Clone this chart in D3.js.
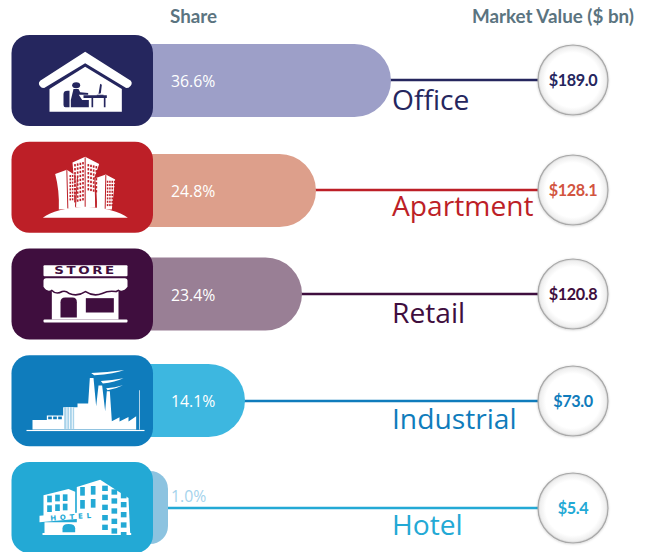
<!DOCTYPE html>
<html><head><meta charset="utf-8">
<script src="https://cdn.jsdelivr.net/npm/d3@7"></script>
<style>html,body{margin:0;padding:0;background:#fff;overflow:hidden}svg{display:block}</style>
</head><body><div id="c"></div>
<script>
const categories = ["Office","Apartment","Retail","Industrial","Hotel"];
const shares = [36.6,24.8,23.4,14.1,1.0];
const marketValues = [189.0,128.1,120.8,73.0,5.4];
const headers = ["Share","Market Value ($ bn)"];

const cardColors = ["#25265e","#bd1f27","#3f0e3e","#0f7cbc","#23a9d5"];
const barColors = ["#9d9fc8","#dd9f8b","#997f95","#3db7e0","#8cc3e0"];
const valueColors = ["#25265e","#d2553f","#3f0e3e","#0f7cbc","#23a9d5"];
const shareColors = ["#fff","#fff","#fff","#fff","#a5d3ec"];

const W=649,H=552;
const svg=d3.select("#c").append("svg").attr("width",W).attr("height",H);
const defs=svg.append("defs");
const grad=defs.append("radialGradient").attr("id","disc");
[[0,"#ffffff"],[0.78,"#ffffff"],[0.94,"#efefef"],[1,"#cfcfcf"]].forEach(s=>grad.append("stop").attr("offset",s[0]).attr("stop-color",s[1]));
const f=defs.append("filter").attr("id","blurShadow").attr("x","-20%").attr("y","-20%").attr("width","140%").attr("height","140%");
f.append("feDropShadow").attr("dx",0).attr("dy",0.5).attr("stdDeviation",0.8).attr("flood-color","#000").attr("flood-opacity",.2);

const x=d3.scaleLinear().domain([1,14.1,23.4,24.8,36.6]).range([168,245,302,316,391]);
const cardTop=d3.scalePoint().domain(categories).range([35,462]);
const lineY=d3.scaleOrdinal().domain(categories).range([80,190,294,401,508]);
const barY=d3.scaleOrdinal().domain(categories).range([80.5,190.5,294,400.5,507.5]);
const labelY=d3.scaleOrdinal().domain(categories).range([110,216,322.5,429,535]);
const cardX=11.5,cardW=141.5,cardH=91,barH=73,circleX=573,circleR=35;

svg.append("text").attr("x",193.5).attr("y",22.5).attr("text-anchor","middle").text(headers[0])
 .attr("font-family","Lato").attr("font-weight",700).attr("font-size",18.8).attr("fill","#5b7480");
svg.append("text").attr("x",553).attr("y",22.5).attr("text-anchor","middle").text(headers[1])
 .attr("font-family","Lato").attr("font-weight",700).attr("font-size",18.8).attr("fill","#5b7480");

function barPath(x1,y,h,r){
  const x0=cardX+40, rr=Math.min(r,h/2);
  return `M${x0},${y}H${x1-rr}A${rr},${rr} 0 0 1 ${x1},${y+rr}V${y+h-rr}A${rr},${rr} 0 0 1 ${x1-rr},${y+h}H${x0}Z`;
}
const rows=svg.selectAll("g.row").data(categories).join("g").attr("class","row");
rows.append("line").attr("x1",(d,i)=>x(shares[i])-2).attr("x2",circleX-circleR+1)
 .attr("y1",d=>lineY(d)).attr("y2",d=>lineY(d)).attr("stroke",(d,i)=>cardColors[i]).attr("stroke-width",2.6);
rows.append("path").attr("d",(d,i)=>barPath(x(shares[i]),barY(d)-barH/2,barH,i===4?18:40)).attr("fill",(d,i)=>barColors[i]);
rows.append("rect").attr("x",cardX).attr("y",d=>cardTop(d)).attr("width",cardW).attr("height",cardH).attr("rx",18)
 .attr("fill",(d,i)=>cardColors[i]);
rows.append("text").attr("x",171).attr("y",(d,i)=>(i===4?496:barY(d)+1)+5.5).text((d,i)=>d3.format(".1f")(shares[i])+"%")
 .attr("font-family","Open Sans").attr("font-size",15.8).attr("fill",(d,i)=>shareColors[i]);
rows.append("text").attr("x",392).attr("y",d=>labelY(d)).text(d=>d)
 .attr("font-family","Open Sans").attr("font-size",28.2).attr("fill",(d,i)=>cardColors[i]);
rows.append("circle").attr("cx",circleX).attr("cy",d=>lineY(d)).attr("r",circleR)
 .attr("fill","url(#disc)").attr("stroke","#a8a8a8").attr("stroke-width",1.2).attr("filter","url(#blurShadow)");
rows.append("text").attr("x",circleX).attr("y",d=>lineY(d)+5.5).attr("text-anchor","middle")
 .text((d,i)=>"$"+d3.format(".1f")(marketValues[i]))
 .attr("font-family","Lato").attr("font-weight",700).attr("font-size",16.2).attr("letter-spacing",-.4).attr("fill",(d,i)=>valueColors[i]);

// Icons, each drawn in a 3x local space
function icon(name,ox,oy){return svg.append("g").attr("class","icon-"+name)
 .attr("transform",`translate(${cardX},${cardTop(name)}) scale(${1/3}) translate(${-ox},${-oy})`);}
function windows(g,xs,ys,w,h,fill,skew=0){xs.forEach((a,ii)=>ys.forEach((b,jj)=>g.append("rect").attr("x",a).attr("y",b+ii*skew).attr("width",w).attr("height",h).attr("fill",fill)));}

// Office
(function(){const c=cardColors[0],g=icon("Office",34,45);
 g.append("path").attr("d","M255,95 L392,182 Q400,192 385,203 L378,204 L255,130 L132,204 L125,203 Q110,192 120,182 Z").attr("fill","#fff");
 g.append("path").attr("d","M148,207 L255,140 L365,207 V275 H148 Z").attr("fill","#fff");
 g.append("ellipse").attr("cx",228).attr("cy",196).attr("rx",12).attr("ry",9).attr("fill",c);
 g.append("path").attr("d","M220,207 H235 L240,217 L264,219 V224 H236 L246,240 H212 Z").attr("fill",c);
 g.append("path").attr("d","M190,222 Q190,212 202,212 H208 V262 H196 Q190,262 190,255 Z M212,240 H266 V262 H212 Z").attr("fill",c);
 g.append("path").attr("d","M250,226 H320 V234 H250 Z M274,234 h5 v28 h-5 Z M311,234 h5 v28 h-5 Z").attr("fill",c);
 g.append("path").attr("d","M300,191 L305,194 L302,220 L295,222 Z M290,224 H310 V227 H290 Z").attr("fill",c);
})();

// Apartment
(function(){const c=cardColors[1],g=icon("Apartment",34,365);
 g.append("path").attr("d","M128,593 Q165,565 255,560 Q345,565 383,593 Z").attr("fill","#fff");
 g.append("path").attr("d","M165,462 L200,449 L232,470 L226,565 L176,568 Q178,510 165,462 Z").attr("fill","#fff");
 g.append("path").attr("d","M217,427 L255,410 L297,432 L284,470 L286,562 L228,562 Z").attr("fill","#fff");
 g.append("path").attr("d","M283,475 L317,463 L345,478 L335,568 L290,568 Q292,520 283,475 Z").attr("fill","#fff");
 g.append("path").attr("d","M200,450 L203,565 M255,412 L255,560 M317,465 L315,566 M232,470 L226,560 M284,470 L287,562").attr("stroke",c).attr("stroke-width",3).attr("fill","none");
 const xs=d3.range(208,228,7), ys=d3.range(465,545,10);
 windows(g,xs,ys,4.5,6,c,-0.5);
 windows(g,d3.range(222,252,8),d3.range(432,550,12),5,7,c,-2);
 windows(g,d3.range(262,290,8),d3.range(432,510,12),5,7,c,2);
 windows(g,d3.range(320,342,7),d3.range(482,555,10),4.5,6,c,0);
})();

// Retail
(function(){const c=cardColors[2],g=icon("Retail",34,25);
 const scallop="M155,148 Q168,162 185,152 Q197,148 208,158 Q232,168 256,152 Q280,168 305,158 Q325,148 347,152 L355,148";
 g.append("rect").attr("x",130).attr("y",75).attr("width",252).attr("height",33).attr("rx",3).attr("fill","#fff");
 g.append("text").attr("x",256).attr("y",103).attr("text-anchor","middle").text("STORE")
  .attr("font-family","DejaVu Sans").attr("font-weight",700).attr("font-size",31).attr("letter-spacing",6).attr("fill",c)
  .attr("textLength",188).attr("lengthAdjust","spacingAndGlyphs");
 g.append("rect").attr("x",155).attr("y",150).attr("width",200).attr("height",88).attr("fill","#fff");
 g.append("path").attr("d",scallop+" V140 H155 Z").attr("fill",c).attr("stroke",c).attr("stroke-width",9);
 g.append("path").attr("d","M130,122 Q130,114 138,114 H374 Q382,114 382,122 V140 Q368,158 355,148 L347,152 Q325,148 305,158 Q280,168 256,152 Q232,168 208,158 Q197,148 185,152 Q168,162 155,148 Q142,158 130,140 Z").attr("fill","#fff");
 g.append("path").attr("d","M181,232 V186 Q181,172 195,172 H217 Q230,172 230,186 V232 Z").attr("fill",c);
 g.append("rect").attr("x",257).attr("y",174).attr("width",84).attr("height",43).attr("fill",c);
 g.append("rect").attr("x",130).attr("y",238).attr("width",252).attr("height",9).attr("rx",3).attr("fill","#fff");
})();

// Industrial
(function(){const c=cardColors[3],g=icon("Industrial",34,347);
 g.append("rect").attr("x",79).attr("y",571).attr("width",354).attr("height",3.5).attr("fill","#fff");
 g.append("path").attr("d","M97,570 V541 H140 V528 H189 V503 H232 V492 H264 L269,415 H280 L288,500 L295,438 H306 L315,515 L320,455 H329 L335,545 L358,533 V546 L385,532 V546 L408,530 V570 Z").attr("fill","#fff");
 g.append("path").attr("d","M273,400 Q320,398 372,391 Q345,402 282,407 Z M302,424 Q335,422 370,416 Q345,428 308,432 Z M318,446 Q345,444 368,437 Q348,448 322,452 Z").attr("fill","#fff");
 g.append("rect").attr("x",416.5).attr("y",452).attr("width",2).attr("height",118).attr("fill","#fff");
 g.append("rect").attr("x",192).attr("y",503).attr("width",30).attr("height",65).attr("fill","#a9d3ea");
 [199,207,215].forEach(a=>g.append("rect").attr("x",a).attr("y",503).attr("width",2.5).attr("height",65).attr("fill","#fff"));
 [144,159,174].forEach(a=>g.append("rect").attr("x",a).attr("y",531).attr("width",11).attr("height",8).attr("fill",c));
})();

// Hotel
(function(){const c=cardColors[4],g=icon("Hotel",34,667);
 g.append("path").attr("d","M130,767 L205,748 L225,756 V830 H130 Z").attr("fill","#fff");
 g.append("path").attr("d","M230,742 L300,720 L385,775 L390,880 H230 Z").attr("fill","#fff");
 g.append("path").attr("d","M118,828 L296,814 V832 L118,848 Z").attr("fill","#fff");
 g.append("path").attr("d","M133,848 H300 V880 H133 Z").attr("fill","#fff");
 g.append("rect").attr("x",127).attr("y",880).attr("width",266).attr("height",6).attr("fill","#fff");
 g.append("path").attr("d","M187,878 V866 Q187,853 205,853 Q225,853 225,866 V878 Z").attr("fill",c);
 windows(g,[141,165],[768,797],14,20,c,-3);
 windows(g,[188],[764,792],14,20,c,0);
 windows(g,[240,272],[742,781],14,26,c,-3);
 windows(g,[306,334,362],[738,765,795,826,855],17,16,c,11);
 g.append("text").attr("x",212).attr("y",839).attr("text-anchor","middle").attr("transform","rotate(-4 212 839)").text("HOTEL")
  .attr("font-family","DejaVu Sans").attr("font-weight",700).attr("font-size",21).attr("fill",c)
  .attr("textLength",122).attr("lengthAdjust","spacing");
})();
</script></body></html>
